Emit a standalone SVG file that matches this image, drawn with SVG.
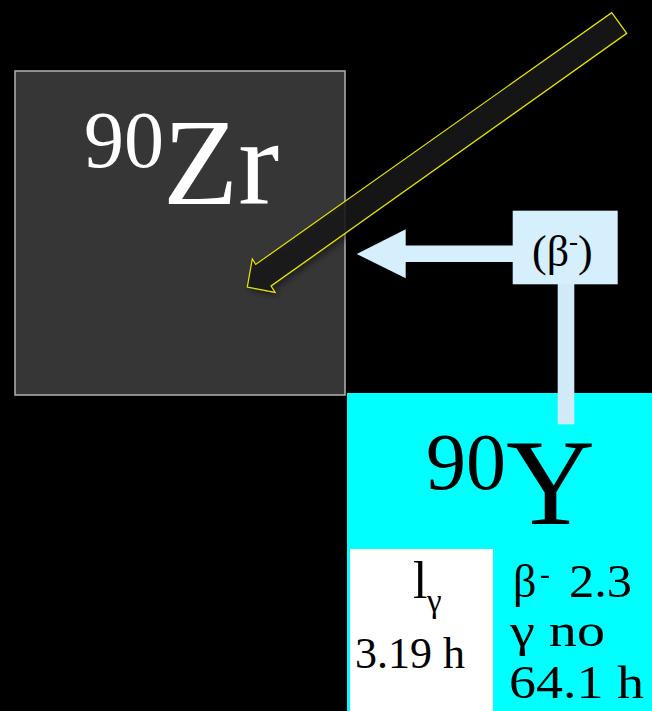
<svg xmlns="http://www.w3.org/2000/svg" width="652" height="711" viewBox="0 0 652 711">
<defs>
<style>
.blue{fill:#d5effc}
.t{font-family:"Liberation Serif","Times New Roman",serif}
</style>
<filter id="sh" x="-10%" y="-10%" width="130%" height="130%">
<feGaussianBlur in="SourceAlpha" stdDeviation="3"/>
<feOffset dx="3" dy="3" result="b"/>
<feComponentTransfer><feFuncA type="linear" slope="0.5"/></feComponentTransfer>
<feMerge><feMergeNode/><feMergeNode in="SourceGraphic"/></feMerge>
</filter>
</defs>
<rect x="0" y="0" width="652" height="711" fill="#000"/>

<g id="zr90" class="t">
<rect x="15" y="71" width="330" height="324" fill="#363636" stroke="#b4b4b4" stroke-width="1.5"/>
<text x="84" y="167" font-size="80" fill="#fff">90</text>
<text x="163" y="204" font-size="123" fill="#fff">Zr</text>
</g>

<g id="y90" class="t">
<rect x="347" y="393" width="305" height="318" fill="#00ffff"/>
<text x="426" y="489" font-size="80" fill="#000">90</text>
<text x="506" y="524" font-size="123" fill="#000">Y</text>
<rect x="350" y="549" width="143" height="162" fill="#fff"/>
<text x="413" y="598" font-size="52" fill="#000">l</text>
<text x="427" y="612" font-size="33" fill="#000">γ</text>
<text x="355" y="668" font-size="45" fill="#000" textLength="110" lengthAdjust="spacingAndGlyphs">3.19 h</text>
<text x="513" y="597" font-size="46" fill="#000">β</text>
<text x="540" y="584" font-size="30" fill="#000">-</text>
<text x="569" y="597" font-size="46" fill="#000" textLength="63" lengthAdjust="spacingAndGlyphs">2.3</text>
<text x="510" y="646" font-size="46" fill="#000" textLength="95" lengthAdjust="spacingAndGlyphs">γ no</text>
<text x="509" y="698" font-size="46" fill="#000" textLength="135" lengthAdjust="spacingAndGlyphs">64.1 h</text>
</g>

<g id="connectors">
<polygon points="611.7,12.7 626.7,33.3 271,286 275,292.3 247.3,287 252.3,259 255.7,264.5" fill="#141414" fill-opacity="0.85" stroke="#e6e600" stroke-width="1.2" filter="url(#sh)"/>
<polygon class="blue" points="356.7,254 405.7,229.3 405.7,245.5 513,245.5 513,262 405.7,262 405.7,278.3"/>
<rect x="557.7" y="284" width="16.6" height="140.3" fill="#d0eaf8"/>
</g>

<g id="beta-decay" class="t">
<rect class="blue" x="512.7" y="210.7" width="105" height="73.6"/>
<text x="532" y="266" font-size="44" fill="#000">(β<tspan font-size="27" dy="-16">-</tspan><tspan dy="16">)</tspan></text>
</g>
</svg>
